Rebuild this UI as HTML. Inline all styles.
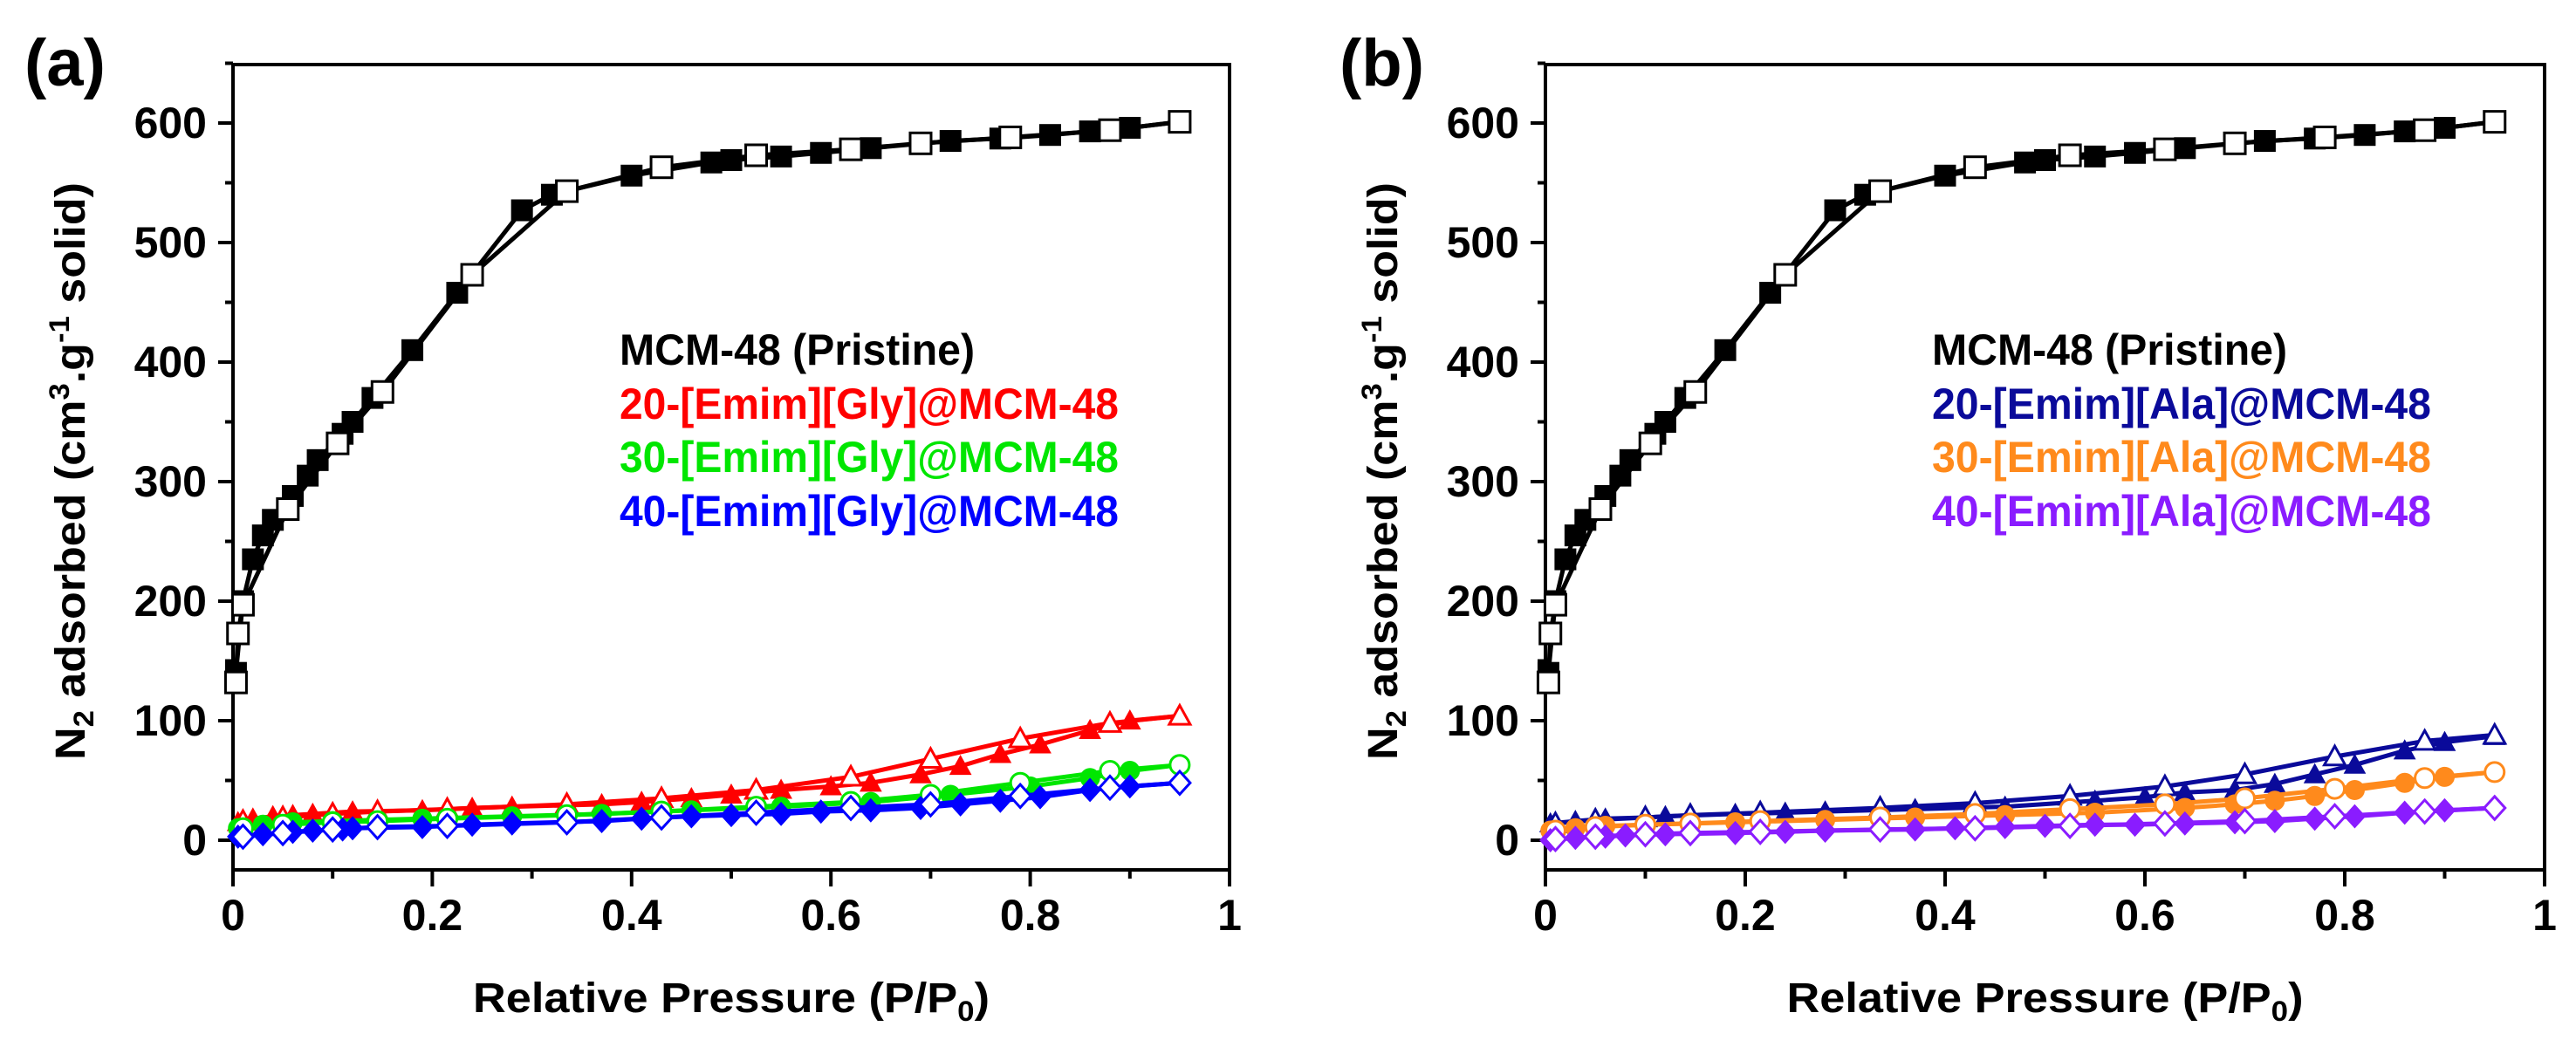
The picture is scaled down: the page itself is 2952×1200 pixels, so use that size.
<!DOCTYPE html>
<html><head><meta charset="utf-8">
<style>
html,body{margin:0;padding:0;background:#fff;}
svg{display:block;font-family:"Liberation Sans",Arial,sans-serif;}
</style></head>
<body>
<svg id="fig" width="2952" height="1200" viewBox="0 0 2952 1200" xmlns="http://www.w3.org/2000/svg"></svg>
<script>
// ---- Data (x = P/P0, y = N2 adsorbed) ----
const mcmAdsX = [0.003,0.01,0.02,0.03,0.04,0.06,0.075,0.085,0.11,0.12,0.14,0.18,0.225,0.29,0.32,0.4,0.48,0.5,0.55,0.59,0.64,0.72,0.77,0.82,0.86,0.9,0.95];
const mcmAdsY = [140,200,235,255,268,288,305,318,340,350,370,410,458,527,540,556,567,569,572,575,579,585,587,590,593,596,601];
const mcmDesX = [0.95,0.88,0.78,0.69,0.62,0.525,0.43,0.335,0.24,0.15,0.105,0.055,0.01,0.005,0.003];
const mcmDesY = [601,594,588,583,578,573,563,543,473,375,332,277,197,173,132];

const desX = [0.95,0.88,0.79,0.7,0.62,0.525,0.43,0.335,0.215,0.145,0.1,0.05,0.01];

const gly20AdsX = [0.005,0.02,0.04,0.06,0.08,0.1,0.12,0.19,0.24,0.28,0.37,0.41,0.46,0.5,0.55,0.6,0.64,0.69,0.73,0.77,0.81,0.86,0.9,0.95];
const gly20AdsY = [15,18,20,21,22,23,24,25,27,28,30,32,35,38,42,45,48,55,62,72,80,92,100,104];
const gly20DesY = [104,98,85,68,53,42,35,30,26,24,22,19,16];

const gly30AdsX = [0.005,0.03,0.06,0.1,0.19,0.28,0.37,0.46,0.55,0.64,0.72,0.8,0.86,0.9,0.95];
const gly30AdsY = [10,13,15,16,18,20,22,25,28,32,38,45,52,58,63];
const gly30DesY = [63,58,48,38,32,28,24,21,18,16,15,13,10];

const gly40AdsX = [0.005,0.03,0.06,0.08,0.11,0.12,0.19,0.24,0.28,0.37,0.41,0.46,0.5,0.55,0.59,0.64,0.69,0.73,0.77,0.81,0.86,0.9,0.95];
const gly40AdsY = [3,5,7,8,9,10,11,13,14,16,18,20,21,22,24,25,27,30,33,36,42,45,48];
const gly40DesY = [48,44,37,30,27,23,19,15,12,11,9,6,3];

const ala20AdsX = [0.005,0.03,0.06,0.1,0.12,0.19,0.24,0.28,0.37,0.46,0.55,0.6,0.64,0.69,0.73,0.77,0.81,0.86,0.9,0.95];
const ala20AdsY = [14,16,18,19,20,22,23,24,26,28,33,36,40,42,47,55,63,75,82,87];
const ala20DesY = [88,83,70,55,45,37,31,27,23,21,19,17,14];

const ala30AdsX = [0.005,0.03,0.06,0.1,0.19,0.28,0.37,0.46,0.55,0.64,0.69,0.73,0.77,0.81,0.86,0.9,0.95];
const ala30AdsY = [8,10,12,13,15,17,19,21,23,27,30,33,37,42,48,53,57];
const ala30DesY = [57,52,43,35,30,26,22,19,16,14,13,11,8];

const ala40AdsX = [0.005,0.03,0.06,0.08,0.12,0.19,0.24,0.28,0.37,0.41,0.46,0.5,0.55,0.59,0.64,0.69,0.73,0.77,0.81,0.86,0.9,0.95];
const ala40AdsY = [0,2,3,4,5,6,7,8,9,10,11,12,13,13,14,15,16,18,20,23,25,27];
const ala40DesY = [27,24,20,16,14,12,10,9,7,6,5,3,1];

const yTicks = [0,100,200,300,400,500,600];
const xTicks = [0,0.2,0.4,0.6,0.8,1];
const xTickLabels = ["0","0.2","0.4","0.6","0.8","1"];

const NS = "http://www.w3.org/2000/svg";
const svg = document.getElementById("fig");
function mk(tag, attrs, parent){
  const e = document.createElementNS(NS, tag);
  for (const k in attrs) e.setAttribute(k, attrs[k]);
  (parent||svg).appendChild(e);
  return e;
}

function panel(opt){
  const L = opt.left, R = opt.right, T = 74, B = 997;
  const y0px = 963, perUnit = 1.37;
  const sx = v => L + v*(R-L);
  const sy = v => y0px - v*perUnit;
  const g = mk("g", {});
  
  

  const lt = mk("text", {x: opt.letterX, y: 98, "font-size": 76, "font-weight": "bold", fill: "#000"}, g);
  lt.textContent = opt.letter;
  
  

  const fr = mk("rect", {x: L, y: T, width: R-L, height: B-T, fill: "none", stroke: "#000", "stroke-width": 4}, g);
  
  

  for (let v = 0; v <= 650; v += 50) {
    const major = v % 100 === 0;
    const tk = mk("line", {x1: L, x2: L - (major ? 17 : 9), y1: sy(v), y2: sy(v), stroke: "#000", "stroke-width": 4}, g);
    
    
  }
  yTicks.forEach(v => {
    const t = mk("text", {x: L - 30, y: sy(v) + 17, "font-size": 50, "font-weight": "bold", "text-anchor": "end", fill: "#000"}, g);
    t.textContent = String(v);
    
    
  });
  for (let i = 0; i <= 10; i++) {
    const v = i/10, major = i % 2 === 0;
    const tk = mk("line", {x1: sx(v), x2: sx(v), y1: B, y2: B + (major ? 19 : 10), stroke: "#000", "stroke-width": 4}, g);
    
    
  }
  xTicks.forEach((v, i) => {
    const t = mk("text", {x: sx(v), y: 1066, "font-size": 50, "font-weight": "bold", "text-anchor": "middle", fill: "#000"}, g);
    t.textContent = xTickLabels[i];
    
    
  });

  const xt = mk("text", {x: (L+R)/2, y: 1160, "font-size": 48, "font-weight": "bold", "text-anchor": "middle", fill: "#000", textLength: 592, lengthAdjust: "spacingAndGlyphs"}, g);
  xt.innerHTML = 'Relative Pressure (P/P<tspan font-size="32" dy="10">0</tspan><tspan dy="-10">)</tspan>';
  
  

  const yx = opt.left - 170, yc = 540;
  const yt = mk("text", {x: 0, y: 0, "font-size": 48, "font-weight": "bold", "text-anchor": "middle", fill: "#000", textLength: 662, lengthAdjust: "spacingAndGlyphs", transform: `translate(${yx},${yc}) rotate(-90)`}, g);
  yt.innerHTML = 'N<tspan font-size="32" dy="10">2</tspan><tspan dy="-10"> adsorbed (cm</tspan><tspan font-size="32" dy="-18">3</tspan><tspan dy="18">.g</tspan><tspan font-size="32" dy="-18">-1</tspan><tspan dy="18"> solid)</tspan>';
  
  

  opt.series.forEach(s => {
    const sg = mk("g", {}, g);
    
    
    [[s.ax, s.ay, true], [s.dx, s.dy, false]].forEach(([xs, ys, filled]) => {
      const pts = xs.map((x, i) => sx(x).toFixed(1) + "," + sy(ys[i]).toFixed(1)).join(" ");
      const pl = mk("polyline", {points: pts, fill: "none", stroke: s.color, "stroke-width": 5, "stroke-linejoin": "round"}, sg);
      
      
      xs.forEach((x, i) => {
        const cx = sx(x), cy = sy(ys[i]);
        const fill = filled ? s.color : "#fff";
        const sw = filled ? 1 : 3;
        let m, r = s.size / 2;
        if (s.shape === "square") m = mk("rect", {x: cx-r, y: cy-r, width: 2*r, height: 2*r, fill, stroke: s.color, "stroke-width": sw}, sg);
        else if (s.shape === "circle") m = mk("circle", {cx, cy, r, fill, stroke: s.color, "stroke-width": sw}, sg);
        else if (s.shape === "triangle") m = mk("polygon", {points: `${cx},${cy-r} ${cx+r},${cy+r*0.8} ${cx-r},${cy+r*0.8}`, fill, stroke: s.color, "stroke-width": sw}, sg);
        else m = mk("polygon", {points: `${cx},${cy-r*1.1} ${cx+r},${cy} ${cx},${cy+r*1.1} ${cx-r},${cy}`, fill, stroke: s.color, "stroke-width": sw}, sg);
        
        
      });
    });
  });

  const lg = mk("g", {}, g);
  
  
  const ly = [418, 480, 541, 603];
  opt.legend.forEach((e, i) => {
    const t = mk("text", {x: opt.legendX, y: ly[i], "font-size": 50, "font-weight": "bold", fill: e.color, textLength: e.w, lengthAdjust: "spacingAndGlyphs"}, lg);
    t.textContent = e.text;
    
    
  });
}

const mcm = {name: "series-mcm48", color: "#000", shape: "square", size: 24, ax: mcmAdsX, ay: mcmAdsY, dx: mcmDesX, dy: mcmDesY};

panel({
  name: "panel-a", letter: "(a)", letterX: 28, left: 267, right: 1409, legendX: 710,
  series: [
    {name: "series-20-gly", color: "#ff0000", shape: "triangle", size: 24, ax: gly20AdsX, ay: gly20AdsY, dx: desX, dy: gly20DesY},
    {name: "series-30-gly", color: "#00e600", shape: "circle", size: 22, ax: gly30AdsX, ay: gly30AdsY, dx: desX, dy: gly30DesY},
    {name: "series-40-gly", color: "#0000ff", shape: "diamond", size: 24, ax: gly40AdsX, ay: gly40AdsY, dx: desX, dy: gly40DesY},
    mcm
  ],
  legend: [
    {text: "MCM-48 (Pristine)", color: "#000", w: 407},
    {text: "20-[Emim][Gly]@MCM-48", color: "#ff0000", w: 572},
    {text: "30-[Emim][Gly]@MCM-48", color: "#00e600", w: 572},
    {text: "40-[Emim][Gly]@MCM-48", color: "#0000ff", w: 572}
  ]
});

panel({
  name: "panel-b", letter: "(b)", letterX: 1535, left: 1771, right: 2916, legendX: 2214,
  series: [
    {name: "series-20-ala", color: "#0a0a9a", shape: "triangle", size: 24, ax: ala20AdsX, ay: ala20AdsY, dx: desX, dy: ala20DesY},
    {name: "series-30-ala", color: "#ff8a1c", shape: "circle", size: 22, ax: ala30AdsX, ay: ala30AdsY, dx: desX, dy: ala30DesY},
    {name: "series-40-ala", color: "#8a1cff", shape: "diamond", size: 24, ax: ala40AdsX, ay: ala40AdsY, dx: desX, dy: ala40DesY},
    mcm
  ],
  legend: [
    {text: "MCM-48 (Pristine)", color: "#000", w: 407},
    {text: "20-[Emim][Ala]@MCM-48", color: "#0a0a9a", w: 572},
    {text: "30-[Emim][Ala]@MCM-48", color: "#ff8a1c", w: 572},
    {text: "40-[Emim][Ala]@MCM-48", color: "#8a1cff", w: 572}
  ]
});
</script>
</body></html>
